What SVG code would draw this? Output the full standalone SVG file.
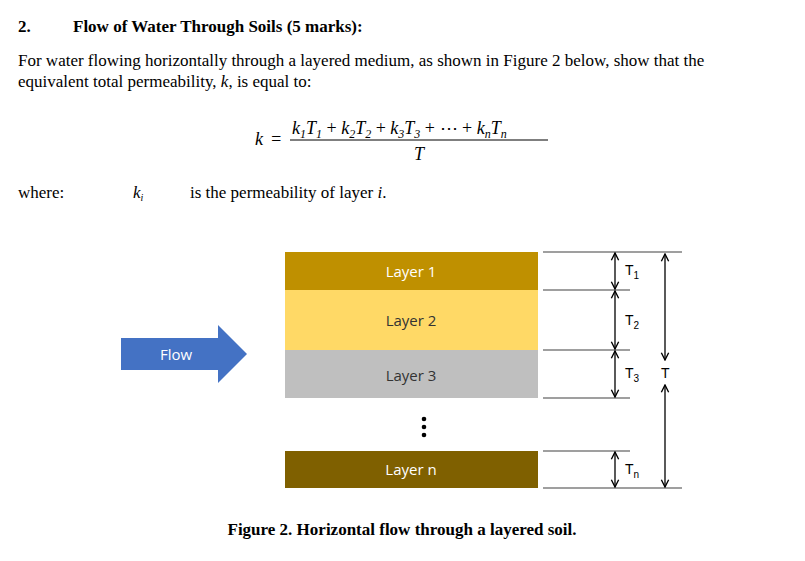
<svg xmlns="http://www.w3.org/2000/svg" width="805" height="561" viewBox="0 0 805 561">
<style>
.t{font-family:"Liberation Serif",serif;font-size:17px;fill:#000}
.m{font-family:"Liberation Serif",serif;font-style:italic;font-size:18px}
.l{font-family:"Open Sans","Liberation Sans",sans-serif;font-size:15px;text-anchor:middle}
.g{stroke:#7f7f7f;stroke-width:1.5}
.a{stroke:#000;stroke-width:1.3;marker-start:url(#h);marker-end:url(#h)}
</style>
<defs><marker id="h" viewBox="0 0 10 10" refX="9" refY="5" markerWidth="7" markerHeight="7" orient="auto-start-reverse"><path d="M1,1 L9,5 L1,9" fill="none" stroke="#000" stroke-width="1.5"/></marker></defs>
<rect width="805" height="561" fill="#fff"/>
<text class="t" x="18" y="32" font-weight="bold">2.</text>
<text class="t" x="73" y="32" font-weight="bold">Flow of Water Through Soils (5 marks):</text>
<text class="t" x="18" y="66">For water flowing horizontally through a layered medium, as shown in Figure 2 below, show that the</text>
<text class="t" x="18" y="87">equivalent total permeability, <tspan font-style="italic">k</tspan>, is equal to:</text>
<text class="m" x="255" y="145">k</text><text class="m" x="270" y="145" font-style="normal">=</text>
<text class="m" x="292" y="134">k<tspan font-size="12" dy="4">1</tspan><tspan dy="-4">T</tspan><tspan font-size="12" dy="4">1</tspan><tspan dy="-4" font-style="normal"> + </tspan>k<tspan font-size="12" dy="4">2</tspan><tspan dy="-4">T</tspan><tspan font-size="12" dy="4">2</tspan><tspan dy="-4" font-style="normal"> + </tspan>k<tspan font-size="12" dy="4">3</tspan><tspan dy="-4">T</tspan><tspan font-size="12" dy="4">3</tspan><tspan dy="-4" font-style="normal"> + ⋯ + </tspan>k<tspan font-size="12" dy="4">n</tspan><tspan dy="-4">T</tspan><tspan font-size="12" dy="4">n</tspan></text>
<line x1="290" y1="140" x2="548" y2="140" stroke="#000" stroke-width="1.2"/>
<text class="m" x="414" y="160">T</text>
<text class="t" x="18" y="198">where:</text>
<text class="t" x="133" y="198" font-style="italic" font-size="14">k<tspan font-size="10" dy="3">i</tspan></text>
<text class="t" x="190" y="198">is the permeability of layer <tspan font-style="italic">i</tspan>.</text>
<g id="flow"><path d="M121,338 H218 V325 L247,354 L218,383 V370 H121 Z" fill="#4472c4"/><text class="l" x="176" y="360" fill="#fff">Flow</text></g>
<g id="layer1"><rect x="285" y="252" width="253" height="38" fill="#bf9000"/><text class="l" x="411" y="277" fill="#fff">Layer 1</text></g>
<g id="layer2"><rect x="285" y="290" width="253" height="60" fill="#ffd966"/><text class="l" x="411" y="326" fill="#333">Layer 2</text></g>
<g id="layer3"><rect x="285" y="350" width="253" height="48" fill="#bfbfbf"/><text class="l" x="411" y="381" fill="#333">Layer 3</text></g>
<g id="dots" fill="#000"><circle cx="424" cy="419" r="2.3"/><circle cx="424" cy="427" r="2.3"/><circle cx="424" cy="435" r="2.3"/></g>
<g id="layern"><rect x="285" y="451" width="253" height="37" fill="#7f6000"/><text class="l" x="411" y="475" fill="#fff">Layer n</text></g>
<g id="connectors">
<line class="g" x1="543" y1="252" x2="682" y2="252"/>
<line class="g" x1="543" y1="290" x2="630" y2="290"/>
<line class="g" x1="543" y1="350" x2="630" y2="350"/>
<line class="g" x1="543" y1="398" x2="630" y2="398"/>
<line class="g" x1="543" y1="451" x2="630" y2="451"/>
<line class="g" x1="543" y1="488" x2="682" y2="488"/>
<line class="a" x1="615" y1="253" x2="615" y2="289"/>
<line class="a" x1="615" y1="291" x2="615" y2="349"/>
<line class="a" x1="615" y1="351" x2="615" y2="397"/>
<line class="a" x1="615" y1="452" x2="615" y2="487"/>
<line class="a" x1="665" y1="254" x2="665" y2="360" marker-end="none"/>
<line class="a" x1="665" y1="385" x2="665" y2="487" marker-start="none"/>
</g>
<g font-family="Liberation Sans,sans-serif" font-size="14" fill="#000">
<text x="625" y="275">T<tspan font-size="10" dy="4">1</tspan></text>
<text x="625" y="325">T<tspan font-size="10" dy="4">2</tspan></text>
<text x="625" y="378">T<tspan font-size="10" dy="4">3</tspan></text>
<text x="625" y="474">T<tspan font-size="10" dy="4">n</tspan></text>
<text x="661" y="378">T</text>
</g>
<text class="t" x="402" y="535" text-anchor="middle" font-weight="bold">Figure 2.  Horizontal flow through a layered soil.</text>
</svg>
